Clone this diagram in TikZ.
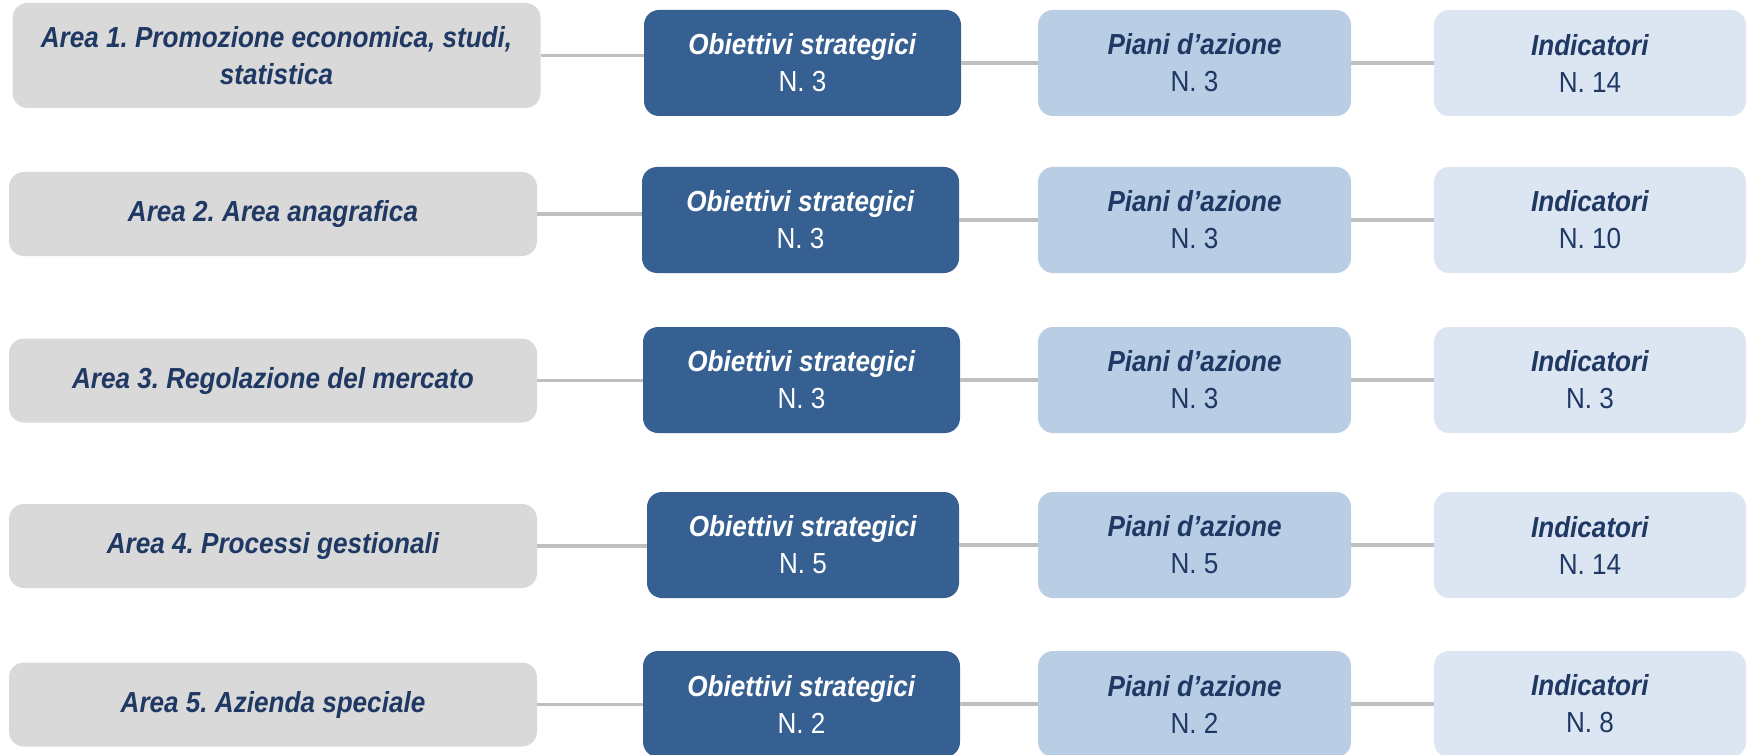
\documentclass[tikz,border=0pt]{standalone}
\usepackage{fontspec}
\setmainfont{Liberation Sans}[FakeStretch=0.9]
\frenchspacing
\definecolor{navytext}{HTML}{1F3864}
\definecolor{areagray}{HTML}{D9D9D9}
\definecolor{objblue}{HTML}{376092}
\definecolor{pianiblue}{HTML}{B9CDE5}
\definecolor{indblue}{HTML}{DCE6F2}
\definecolor{linkgray}{HTML}{BFBFBF}
\tikzset{
  box/.style={rounded corners=7.5pt, inner sep=0pt, align=center,
    font=\fontsize{14.5}{18.5}\selectfont, text=navytext},
  areabox/.style={box, fill=areagray, minimum width=264pt, minimum height=42pt,
    font=\fontsize{14.5}{18.5}\selectfont\bfseries\itshape},
  objbox/.style={box, fill=objblue, text=white, minimum width=158.5pt, minimum height=53pt},
  pianibox/.style={box, fill=pianiblue, minimum width=156.5pt, minimum height=53pt},
  indbox/.style={box, fill=indblue, minimum width=156pt, minimum height=53pt},
  link/.style={linkgray, line width=1.8pt},
}
\newcommand{\obj}[1]{\textbf{\itshape Obiettivi strategici}\\N. #1}
\newcommand{\piani}[1]{\textbf{\itshape Piani d’azione}\\N. #1}
\newcommand{\ind}[1]{\textbf{\itshape Indicatori}\\N. #1}

\begin{document}
\begin{tikzpicture}[x=0.5pt,y=-0.5pt]
  \useasboundingbox (0,0) rectangle (1748,754);

  % aree
  \node[areabox, minimum height=52.5pt] (a1) at (276.5,55.5) {Area 1. Promozione economica, studi,\\statistica};
  \node[areabox] (a2) at (273,214) {Area 2. Area anagrafica};
  \node[areabox] (a3) at (273,380.5) {Area 3. Regolazione del mercato};
  \node[areabox] (a4) at (273,546) {Area 4. Processi gestionali};
  \node[areabox] (a5) at (273,704.5) {Area 5. Azienda speciale};

  % obiettivi strategici
  \node[objbox] (o1) at (802.5,63) {\obj{3}};
  \node[objbox] (o2) at (800.5,220) {\obj{3}};
  \node[objbox] (o3) at (801.5,380) {\obj{3}};
  \node[objbox, minimum width=156pt] (o4) at (803,545) {\obj{5}};
  \node[objbox] (o5) at (801.5,704) {\obj{2}};

  % piani d'azione
  \node[pianibox] (p1) at (1194.5,63) {\piani{3}};
  \node[pianibox] (p2) at (1194.5,220) {\piani{3}};
  \node[pianibox] (p3) at (1194.5,380) {\piani{3}};
  \node[pianibox] (p4) at (1194.5,545) {\piani{5}};
  \node[pianibox] (p5) at (1194.5,704) {\piani{2}};

  % indicatori
  \node[indbox] (i1) at (1590,63) {\ind{14}};
  \node[indbox] (i2) at (1590,220) {\ind{10}};
  \node[indbox] (i3) at (1590,380) {\ind{3}};
  \node[indbox] (i4) at (1590,545) {\ind{14}};
  \node[indbox] (i5) at (1590,704) {\ind{8}};

  % collegamenti
  \foreach \r in {1,...,5}{
    \draw[link] (a\r.east) -- (a\r.east -| o\r.west);
    \draw[link] (o\r.east) -- (o\r.east -| p\r.west);
    \draw[link] (p\r.east) -- (p\r.east -| i\r.west);
  }
\end{tikzpicture}
\end{document}
